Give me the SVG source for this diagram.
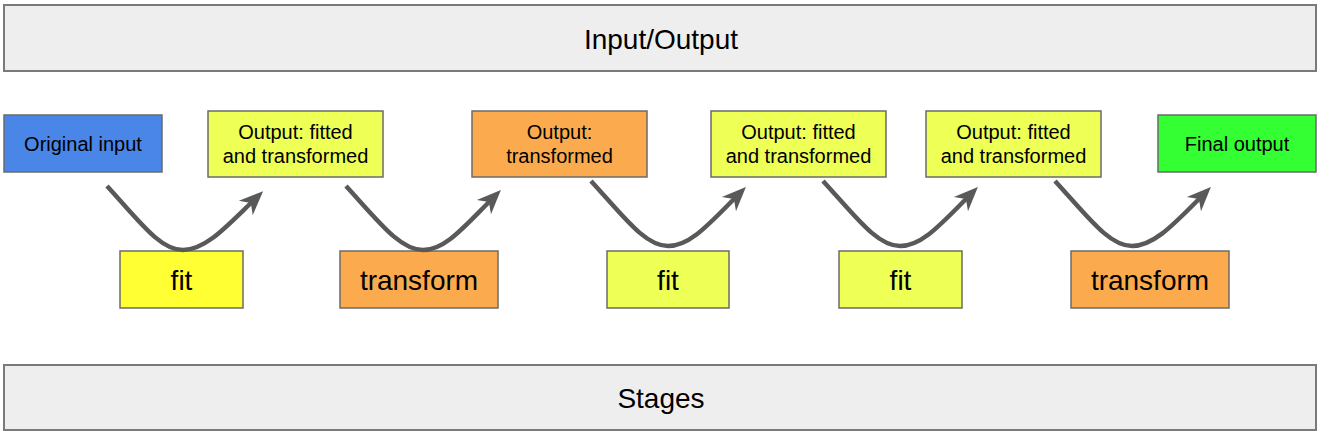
<svg xmlns="http://www.w3.org/2000/svg" width="1322" height="436" viewBox="0 0 1322 436">
<style>
.box{stroke:#6b6b6b;stroke-width:1.5}
.bar{fill:#eeeeee;stroke:#7a7a7a;stroke-width:2}
.t{font-family:"Liberation Sans",Arial,sans-serif;fill:#000;text-anchor:middle}
.s{font-size:20px}
.l{font-size:28px}
.c{fill:none;stroke:#595959;stroke-width:4.5}
</style>
<defs>
<marker id="ah" markerUnits="userSpaceOnUse" viewBox="-12 -12 28 24" markerWidth="28" markerHeight="24" refX="0" refY="0" orient="auto">
<path d="M14,0 L-10,-10 L-3,0 L-10,10 Z" fill="#595959"/>
</marker>
</defs>
<rect width="1322" height="436" fill="#ffffff"/>
<g id="io">
<rect class="bar" x="4" y="5" width="1312" height="66"/>
<text class="t l" x="661" y="49">Input/Output</text>
</g>
<g id="stages">
<rect class="bar" x="4" y="365" width="1312" height="65"/>
<text class="t l" x="661" y="408">Stages</text>
</g>
<g id="original-input">
<rect class="box" x="4" y="115" width="158" height="57" fill="#4a86e8"/>
<text class="t s" x="83" y="151">Original input</text>
</g>
<g id="output1">
<rect class="box" x="208" y="111" width="175" height="66" fill="#eeff55"/>
<text class="t s" x="295.5" y="139">Output: fitted</text>
<text class="t s" x="295.5" y="163">and transformed</text>
</g>
<g id="output2">
<rect class="box" x="472" y="111" width="175" height="66" fill="#fbab4d"/>
<text class="t s" x="559.5" y="139">Output:</text>
<text class="t s" x="559.5" y="163">transformed</text>
</g>
<g id="output3">
<rect class="box" x="711" y="111" width="175" height="66" fill="#eeff55"/>
<text class="t s" x="798.5" y="139">Output: fitted</text>
<text class="t s" x="798.5" y="163">and transformed</text>
</g>
<g id="output4">
<rect class="box" x="926" y="111" width="175" height="66" fill="#eeff55"/>
<text class="t s" x="1013.5" y="139">Output: fitted</text>
<text class="t s" x="1013.5" y="163">and transformed</text>
</g>
<g id="final-output">
<rect class="box" x="1158" y="115" width="158" height="57" fill="#33ff33"/>
<text class="t s" x="1237" y="151">Final output</text>
</g>
<g id="fit1">
<rect class="box" x="120" y="251" width="123" height="57" fill="#ffff33"/>
<text class="t l" x="181.5" y="290">fit</text>
</g>
<g id="transform1">
<rect class="box" x="340" y="251" width="158" height="57" fill="#fbab4d"/>
<text class="t l" x="419" y="290">transform</text>
</g>
<g id="fit2">
<rect class="box" x="607" y="251" width="122" height="57" fill="#eeff55"/>
<text class="t l" x="668" y="290">fit</text>
</g>
<g id="fit3">
<rect class="box" x="839" y="251" width="123" height="57" fill="#eeff55"/>
<text class="t l" x="900.5" y="290">fit</text>
</g>
<g id="transform2">
<rect class="box" x="1071" y="251" width="158" height="57" fill="#fbab4d"/>
<text class="t l" x="1150" y="290">transform</text>
</g>
<g id="connectors">
<path class="c" marker-end="url(#ah)" d="M107,186 C140,222 160,250 183,250 C205,250 225,228 253,201"/>
<path class="c" marker-end="url(#ah)" d="M346,186 C379,222 400,250 423,250 C445,250 464,227 491,200"/>
<path class="c" marker-end="url(#ah)" d="M591,181 C624,217 645,246 668,246 C690,246 709,224 736,197"/>
<path class="c" marker-end="url(#ah)" d="M823,181 C856,217 877,246 900,246 C922,246 941,224 968,197"/>
<path class="c" marker-end="url(#ah)" d="M1055,181 C1088,217 1109,246 1132,246 C1154,246 1174,224 1201,197"/>
</g>
</svg>
